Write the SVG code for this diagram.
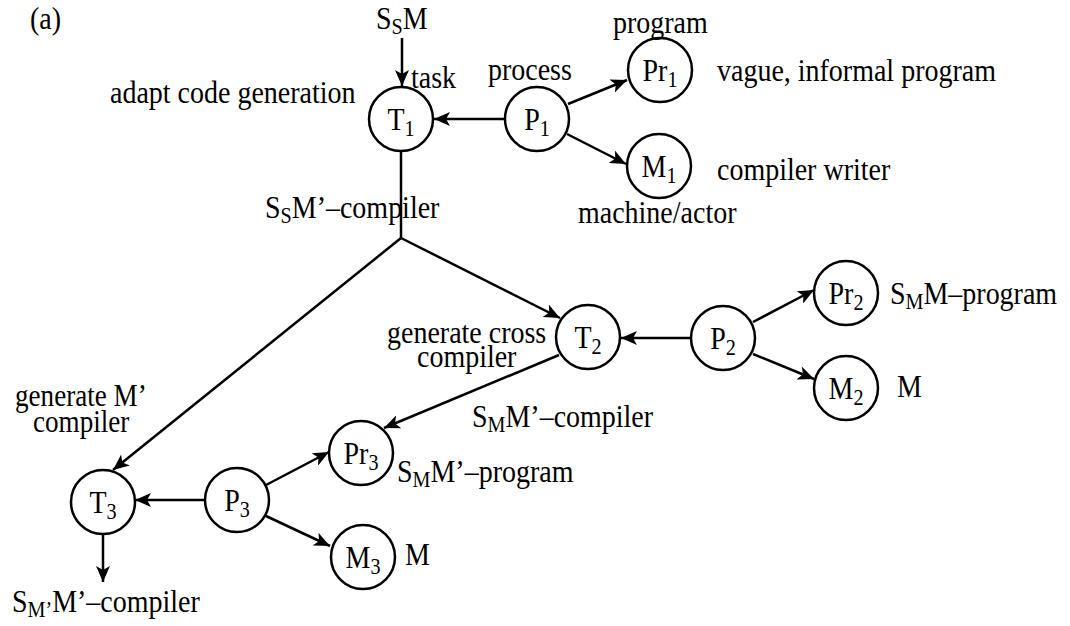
<svg xmlns="http://www.w3.org/2000/svg" width="1070" height="626" viewBox="0 0 1070 626">
<style>
text{font-family:"Liberation Serif","Times New Roman",serif;font-size:32px;fill:#000}
.n{text-anchor:middle}
.sub{font-size:23px}
.sm{font-size:31px}
.node circle{fill:#fff;stroke:#000;stroke-width:2.5}
#connectors line{stroke:#000;stroke-width:2.5;fill:none}
</style>
<defs>
<marker id="ah" viewBox="0 0 16 14" markerUnits="userSpaceOnUse" markerWidth="16" markerHeight="14" refX="16" refY="7" orient="auto">
<path d="M0,0 L16,7 L0,14 L4,7 z" fill="#000"/>
</marker>
</defs>
<rect width="1070" height="626" fill="#fff"/>
<g id="connectors">
<line x1="402" y1="38" x2="402" y2="86" marker-end="url(#ah)"/>
<line x1="504" y1="119" x2="434" y2="119" marker-end="url(#ah)"/>
<line x1="568" y1="104" x2="627" y2="80" marker-end="url(#ah)"/>
<line x1="567" y1="134" x2="626" y2="164" marker-end="url(#ah)"/>
<line x1="401" y1="152" x2="401" y2="238"/>
<line x1="401" y1="238" x2="560" y2="318" marker-end="url(#ah)"/>
<line x1="401" y1="238" x2="113" y2="470" marker-end="url(#ah)"/>
<line x1="691" y1="338" x2="621" y2="338" marker-end="url(#ah)"/>
<line x1="753" y1="322" x2="814" y2="290" marker-end="url(#ah)"/>
<line x1="753" y1="354" x2="814" y2="379" marker-end="url(#ah)"/>
<line x1="559" y1="355" x2="384" y2="428" marker-end="url(#ah)"/>
<line x1="205" y1="500" x2="135" y2="500" marker-end="url(#ah)"/>
<line x1="266" y1="485" x2="329" y2="452" marker-end="url(#ah)"/>
<line x1="266" y1="516" x2="330" y2="546" marker-end="url(#ah)"/>
<line x1="103" y1="534" x2="103" y2="582" marker-end="url(#ah)"/>
</g>
<g id="T1" class="node"><circle cx="401" cy="119" r="32"/><text class="n" transform="scale(0.875,1)" x="458.29" y="130">T<tspan class="sub" dy="6">1</tspan></text></g>
<g id="P1" class="node"><circle cx="537" cy="119" r="32"/><text class="n" transform="scale(0.875,1)" x="613.71" y="130">P<tspan class="sub" dy="6">1</tspan></text></g>
<g id="Pr1" class="node"><circle cx="660" cy="70" r="32"/><text class="n" transform="scale(0.875,1)" x="754.29" y="81">Pr<tspan class="sub" dy="6">1</tspan></text></g>
<g id="M1" class="node"><circle cx="659" cy="166" r="32"/><text class="n" transform="scale(0.875,1)" x="753.14" y="177">M<tspan class="sub" dy="6">1</tspan></text></g>
<g id="T2" class="node"><circle cx="588" cy="337" r="32"/><text class="n" transform="scale(0.875,1)" x="672" y="348">T<tspan class="sub" dy="6">2</tspan></text></g>
<g id="P2" class="node"><circle cx="723" cy="338" r="32"/><text class="n" transform="scale(0.875,1)" x="826.29" y="349">P<tspan class="sub" dy="6">2</tspan></text></g>
<g id="Pr2" class="node"><circle cx="846" cy="293" r="32"/><text class="n" transform="scale(0.875,1)" x="966.86" y="304">Pr<tspan class="sub" dy="6">2</tspan></text></g>
<g id="M2" class="node"><circle cx="846" cy="388" r="32"/><text class="n" transform="scale(0.875,1)" x="966.86" y="399">M<tspan class="sub" dy="6">2</tspan></text></g>
<g id="T3" class="node"><circle cx="103" cy="502" r="32"/><text class="n" transform="scale(0.875,1)" x="117.71" y="513">T<tspan class="sub" dy="6">3</tspan></text></g>
<g id="P3" class="node"><circle cx="237" cy="500" r="32"/><text class="n" transform="scale(0.875,1)" x="270.86" y="511">P<tspan class="sub" dy="6">3</tspan></text></g>
<g id="Pr3" class="node"><circle cx="361" cy="453" r="32"/><text class="n" transform="scale(0.875,1)" x="412.57" y="464">Pr<tspan class="sub" dy="6">3</tspan></text></g>
<g id="M3" class="node"><circle cx="363" cy="557" r="32"/><text class="n" transform="scale(0.875,1)" x="414.86" y="568">M<tspan class="sub" dy="6">3</tspan></text></g>
<g id="labels" transform="scale(0.875,1)">
<text x="34.29" y="29">(a)</text>
<text x="429.71" y="29">S<tspan class="sub" dy="5">S</tspan><tspan dy="-5">M</tspan></text>
<text x="469.71" y="88">task</text>
<text x="125.71" y="103">adapt code generation</text>
<text x="557.71" y="80">process</text>
<text x="700.57" y="33">program</text>
<text x="819.43" y="81">vague, informal program</text>
<text x="819.43" y="180">compiler writer</text>
<text x="660.57" y="223">machine/actor</text>
<text x="302.86" y="218">S<tspan class="sub" dy="5">S</tspan><tspan dy="-5">M’–compiler</tspan></text>
<text x="442.29" y="343">generate cross</text>
<text x="476.57" y="367">compiler</text>
<text x="1017.14" y="304">S<tspan class="sub" dy="5">M</tspan><tspan dy="-5">M–program</tspan></text>
<text x="1025.14" y="397">M</text>
<text class="sm" x="17.14" y="406">generate M’</text>
<text class="sm" x="37.71" y="432">compiler</text>
<text x="539.43" y="427">S<tspan class="sub" dy="5">M</tspan><tspan dy="-5">M’–compiler</tspan></text>
<text x="453.71" y="482">S<tspan class="sub" dy="5">M</tspan><tspan dy="-5">M’–program</tspan></text>
<text x="462.86" y="565">M</text>
<text x="13.71" y="612">S<tspan class="sub" dy="5">M’</tspan><tspan dy="-5">M’–compiler</tspan></text>
</g>
</svg>
